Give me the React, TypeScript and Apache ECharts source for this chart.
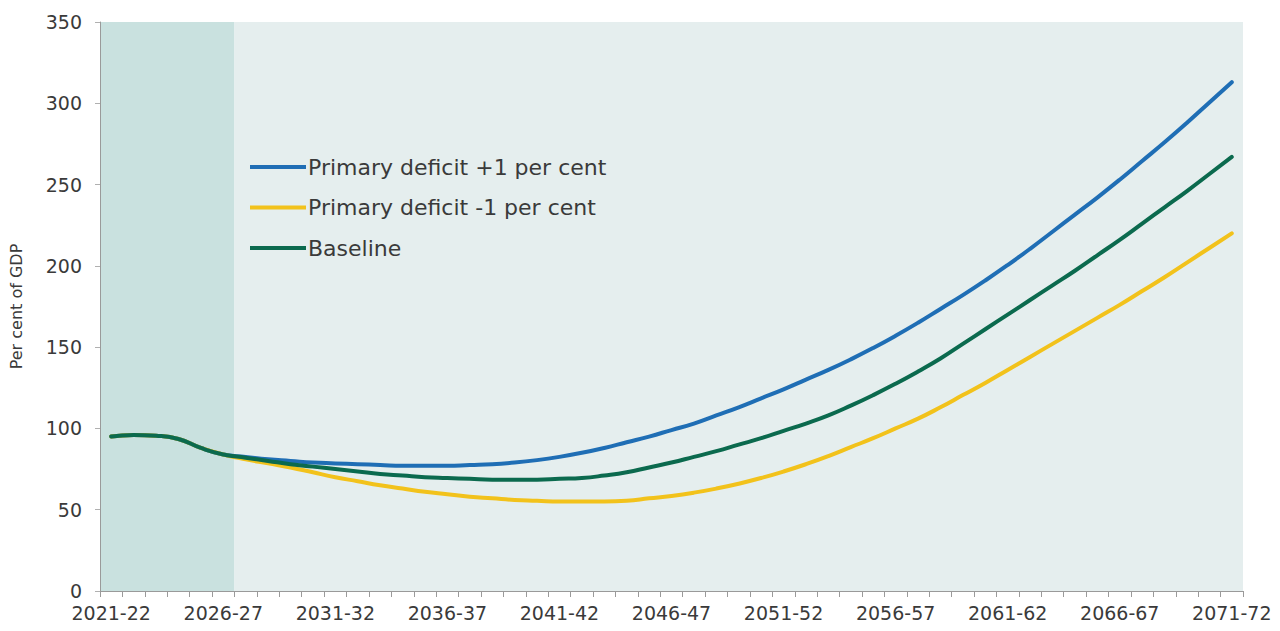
import React, { useEffect, useRef } from "react";
import * as echarts from "echarts";

const years: string[] = [
  "2021-22","2022-23","2023-24","2024-25","2025-26","2026-27","2027-28","2028-29","2029-30","2030-31",
  "2031-32","2032-33","2033-34","2034-35","2035-36","2036-37","2037-38","2038-39","2039-40","2040-41",
  "2041-42","2042-43","2043-44","2044-45","2045-46","2046-47","2047-48","2048-49","2049-50","2050-51",
  "2051-52","2052-53","2053-54","2054-55","2055-56","2056-57","2057-58","2058-59","2059-60","2060-61",
  "2061-62","2062-63","2063-64","2064-65","2065-66","2066-67","2067-68","2068-69","2069-70","2070-71",
  "2071-72",
];

const deficitPlus1: number[] = [
  95, 96, 95.5, 93.5, 88, 84, 82.5, 81, 80, 79,
  78.5, 78, 77.5, 77, 77, 77, 77.5, 78, 79, 80.5,
  82.5, 85, 88, 91.5, 95, 99, 103, 108, 113, 118.5,
  124, 130, 136, 142.5, 149.5, 157, 165, 173.5, 182, 191,
  200.5, 210.5, 221, 231.5, 242, 253, 264.5, 276, 288, 300.5,
  313,
];

const deficitMinus1: number[] = [
  95, 96, 95.5, 93.5, 88, 84, 81, 78.5, 76, 73,
  70, 67.5, 65, 63, 61, 59.5, 58, 57, 56, 55.5,
  55, 55, 55, 55.5, 57, 58.5, 60.5, 63, 66, 69.5,
  73.5, 78, 83, 88.5, 94, 100, 106, 113, 120.5, 128,
  136, 144, 152, 160, 168, 176, 184.5, 193, 202, 211,
  220,
];

const baseline: number[] = [
  95, 96, 95.5, 93.5, 88, 84, 82, 80, 78, 76.5,
  75, 73.5, 72, 71, 70, 69.5, 69, 68.5, 68.5, 68.5,
  69, 69.5, 71, 73, 76, 79, 82.5, 86, 90, 94,
  98.5, 103, 108, 114, 120.5, 127.5, 135, 143, 152, 161,
  170, 179, 188, 197, 206.5, 216, 226, 236, 246, 256.5,
  267,
];

const seriesNames: string[] = [
  "Primary deficit +1 per cent",
  "Primary deficit -1 per cent",
  "Baseline",
];

const periodLabels: string[] = ["EFO\nforecast", "FRS projection"];
const forecastEnd = "2026-27";

const yTicks = { min: 0, max: 350, interval: 50 };

export default function App() {
  const ref = useRef<HTMLDivElement>(null);
  useEffect(() => {
    if (!ref.current) return;
    const chart = echarts.init(ref.current, undefined, { renderer: "svg" });
    const font = "'DejaVu Sans', sans-serif";
    const textColor = "#3a3a3a";
    const endIdx = years.indexOf(forecastEnd);
    chart.setOption({
      animation: false,
      backgroundColor: "#ffffff",
      textStyle: { fontFamily: font },
      grid: { left: 100, right: 37, top: 22, bottom: 40, containLabel: false },
      legend: {
        orient: "vertical",
        left: 245,
        top: 151,
        itemWidth: 56,
        itemHeight: 4,
        itemGap: 18.5,
        icon: "rect",
        data: seriesNames,
        textStyle: {
          fontSize: 22,
          lineHeight: 22,
          color: textColor,
          fontFamily: font,
          padding: [0, 0, 0, -3],
        },
      },
      graphic: [
        {
          type: "text",
          left: 134,
          top: 36,
          style: {
            text: periodLabels[0],
            fontSize: 16,
            lineHeight: 25,
            fill: textColor,
            align: "center",
            fontFamily: font,
          },
        },
        {
          type: "text",
          left: 660,
          top: 55,
          style: { text: periodLabels[1], fontSize: 16, fill: textColor, fontFamily: font },
        },
      ],
      xAxis: [
        {
          type: "category",
          data: years,
          boundaryGap: true,
          axisLine: { show: true, lineStyle: { color: "#9a9a9a", width: 1 } },
          axisTick: { show: true, interval: 0, length: 6, lineStyle: { color: "#9a9a9a" } },
          axisLabel: {
            interval: 4,
            fontSize: 19,
            color: textColor,
            margin: 12,
            fontFamily: font,
          },
          splitLine: { show: false },
          z: 5,
        },
        {
          type: "value",
          min: -0.5,
          max: years.length - 0.5,
          show: false,
          splitLine: { show: false },
        },
      ],
      yAxis: {
        type: "value",
        min: yTicks.min,
        max: yTicks.max,
        interval: yTicks.interval,
        name: "Per cent of GDP",
        nameLocation: "middle",
        nameGap: 76,
        nameRotate: 90,
        nameTextStyle: { fontSize: 16, color: textColor, fontFamily: font },
        axisLine: { show: true, onZero: false, lineStyle: { color: "#9a9a9a", width: 1 } },
        axisTick: { show: true, length: 5, lineStyle: { color: "#b0b0b0" } },
        axisLabel: { fontSize: 19, color: textColor, margin: 18, fontFamily: font },
        splitLine: { show: false },
        z: 5,
      },
      series: [
        {
          name: "periods",
          type: "line",
          xAxisIndex: 1,
          data: [],
          silent: true,
          markArea: {
            silent: true,
            data: [
              [
                { xAxis: -0.5, itemStyle: { color: "#c9e1df" } },
                { xAxis: endIdx + 0.5 },
              ],
              [
                { xAxis: endIdx + 0.5, itemStyle: { color: "#e5eeee" } },
                { xAxis: years.length - 0.5 },
              ],
            ],
          },
          z: 1,
        },
        {
          name: seriesNames[0],
          type: "line",
          data: deficitPlus1,
          smooth: true,
          showSymbol: false,
          symbol: "none",
          color: "#1f6eb5",
          lineStyle: { width: 4, color: "#1f6eb5", cap: "round" },
          z: 3,
        },
        {
          name: seriesNames[1],
          type: "line",
          data: deficitMinus1,
          smooth: true,
          showSymbol: false,
          symbol: "none",
          color: "#f2c21b",
          lineStyle: { width: 4, color: "#f2c21b", cap: "round" },
          z: 4,
        },
        {
          name: seriesNames[2],
          type: "line",
          data: baseline,
          smooth: true,
          showSymbol: false,
          symbol: "none",
          color: "#0b6a4e",
          lineStyle: { width: 4, color: "#0b6a4e", cap: "round" },
          z: 5,
        },
      ],
    });
    return () => chart.dispose();
  }, []);
  return (
    <div
      ref={ref}
      style={{ position: "absolute", left: 0, top: 0, width: 1280, height: 631 }}
    />
  );
}
